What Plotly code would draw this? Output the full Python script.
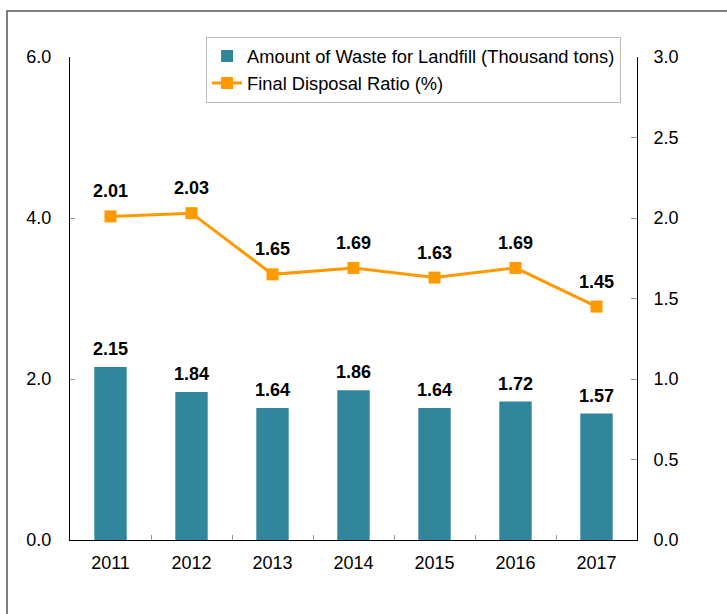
import plotly.graph_objects as go

years = ["2011", "2012", "2013", "2014", "2015", "2016", "2017"]
landfill_amount = [2.15, 1.84, 1.64, 1.86, 1.64, 1.72, 1.57]   # thousand tons (left axis)
disposal_ratio = [2.01, 2.03, 1.65, 1.69, 1.63, 1.69, 1.45]    # percent (right axis)
left_ticks = [0.0, 2.0, 4.0, 6.0]
right_ticks = [0.0, 0.5, 1.0, 1.5, 2.0, 2.5, 3.0]

FONT = "Arial, Liberation Sans, sans-serif"
BAR_COLOR = "#31869B"
LINE_COLOR = "#FF9900"

fig = go.Figure()

fig.add_trace(go.Bar(
    x=years, y=landfill_amount,
    name="Amount of Waste for Landfill (Thousand tons)",
    marker=dict(color=BAR_COLOR, line=dict(width=0)),
    width=0.4,
    yaxis="y",
))

fig.add_trace(go.Scatter(
    x=years, y=disposal_ratio,
    name="Final Disposal Ratio (%)",
    mode="lines+markers",
    line=dict(color=LINE_COLOR, width=3),
    marker=dict(symbol="square", size=12, color=LINE_COLOR),
    yaxis="y2",
))

# value labels; on a category axis annotations take the category index
annotations = []
for i, v in enumerate(landfill_amount):
    annotations.append(dict(
        x=i, y=v, xref="x", yref="y", text=f"{v:.2f}",
        showarrow=False, yanchor="middle", yshift=18,
        font=dict(family=FONT, size=18, color="black", weight="bold"),
    ))
for i, v in enumerate(disposal_ratio):
    annotations.append(dict(
        x=i, y=v, xref="x", yref="y2", text=f"{v:.2f}",
        showarrow=False, yanchor="middle", yshift=25,
        font=dict(family=FONT, size=18, color="black", weight="bold"),
    ))

fig.update_layout(
    width=727, height=614,
    margin=dict(l=70, r=90, t=57, b=74, autoexpand=False),
    paper_bgcolor="white", plot_bgcolor="white",
    font=dict(family=FONT, size=18, color="black"),
    showlegend=True,
    legend=dict(
        x=0.24, y=1.042, xanchor="left", yanchor="top",
        bgcolor="white", bordercolor="#BBBBBB", borderwidth=1,
        font=dict(family=FONT, size=18.3, color="black"),
        tracegroupgap=0, itemwidth=30,
    ),
    xaxis=dict(
        type="category", range=[-0.5, len(years) - 0.5],
        showline=True, linecolor="black", linewidth=1,
        ticks="inside", ticklen=5, tickcolor="#999999", tickson="boundaries",
        tickangle=0,
        showgrid=False, zeroline=False,
        ticklabelstandoff=6,
    ),
    yaxis=dict(
        range=[0, 6], tickvals=left_ticks,
        ticktext=[f"{t:.1f}" for t in left_ticks],
        showline=True, linecolor="black", linewidth=1,
        ticks="inside", ticklen=5, tickcolor="#999999",
        showgrid=False, zeroline=False,
        ticklabelstandoff=14,
    ),
    yaxis2=dict(
        range=[0, 3], tickvals=right_ticks,
        ticktext=[f"{t:.1f}" for t in right_ticks],
        overlaying="y", side="right",
        showline=True, linecolor="black", linewidth=1,
        ticks="inside", ticklen=6, tickcolor="#999999",
        showgrid=False, zeroline=False,
        ticklabelstandoff=12,
    ),
    annotations=annotations,
    shapes=[dict(
        type="rect", xref="paper", yref="paper",
        x0=-0.1111, x1=1.4, y0=-0.4, y1=1.0952,
        line=dict(color="#555555", width=1.5), fillcolor="rgba(0,0,0,0)",
        layer="below",
    )],
)

fig.write_html("out.html")
